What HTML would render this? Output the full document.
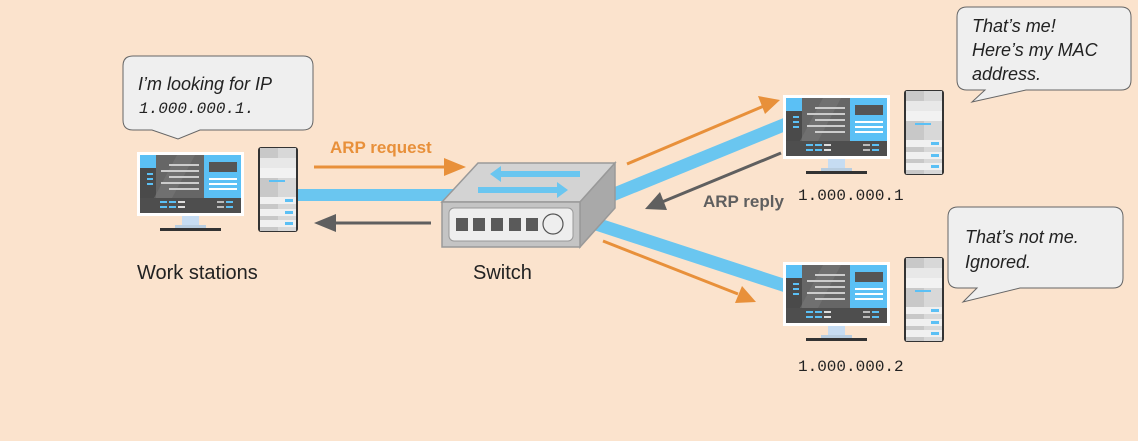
<!DOCTYPE html>
<html><head><meta charset="utf-8"><style>
html,body{margin:0;padding:0;background:#fbe3cd;}
svg{display:block;}
text{font-family:"Liberation Sans",sans-serif;}
</style></head><body>
<svg width="1138" height="441" viewBox="0 0 1138 441" xmlns="http://www.w3.org/2000/svg">
<defs>
<g id="pc">
 <!-- monitor -->
 <rect x="0" y="0" width="107" height="64" fill="#fff"/>
 <rect x="3" y="3" width="101" height="58" fill="#555"/>
 <rect x="3" y="3" width="16" height="13" fill="#5bc0f5"/>
 <rect x="3" y="16" width="16" height="30" fill="#4a4a4a"/>
 <rect x="10" y="21" width="6" height="2" fill="#5bc0f5"/><rect x="10" y="26" width="6" height="2" fill="#5bc0f5"/><rect x="10" y="31" width="6" height="2" fill="#5bc0f5"/>
 <rect x="19" y="3" width="48" height="43" fill="#666"/>
 <polygon points="40,3 58,3 35,46 17,46" fill="#777" opacity="0.6"/>
 <rect x="32" y="12" width="30" height="2" fill="#ccc"/><rect x="24" y="18" width="38" height="2" fill="#ccc"/><rect x="32" y="24" width="30" height="2" fill="#ccc"/><rect x="24" y="30" width="38" height="2" fill="#ccc"/><rect x="32" y="36" width="30" height="2" fill="#ccc"/>
 <rect x="67" y="3" width="37" height="43" fill="#5bc0f5"/>
 <rect x="72" y="10" width="28" height="10" fill="#555"/>
 <rect x="72" y="26" width="28" height="2" fill="#fff"/><rect x="72" y="31" width="28" height="2" fill="#fff"/><rect x="72" y="36" width="28" height="2" fill="#fff"/>
 <rect x="3" y="46" width="101" height="15" fill="#4e4e4e"/>
 <rect x="23" y="49" width="7" height="2" fill="#5bc0f5"/><rect x="32" y="49" width="7" height="2" fill="#5bc0f5"/><rect x="41" y="49" width="7" height="2" fill="#ddd"/>
 <rect x="23" y="54" width="7" height="2" fill="#5bc0f5"/><rect x="32" y="54" width="7" height="2" fill="#5bc0f5"/><rect x="41" y="54" width="7" height="2" fill="#ddd"/>
 <rect x="80" y="49" width="7" height="2" fill="#bbb"/><rect x="89" y="49" width="7" height="2" fill="#5bc0f5"/>
 <rect x="80" y="54" width="7" height="2" fill="#bbb"/><rect x="89" y="54" width="7" height="2" fill="#5bc0f5"/>
 <rect x="45" y="64" width="17" height="10" fill="#c6dcf2"/>
 <rect x="38" y="73" width="31" height="3" fill="#b8cde0"/>
 <rect x="23" y="76" width="61" height="3" fill="#333"/>
 <!-- tower -->
 <rect x="121" y="-5" width="40" height="85" rx="3" fill="#333"/>
 <rect x="123" y="-4" width="36" height="83" fill="#c8c8c8"/>
 <rect x="141" y="-4" width="18" height="83" fill="#d8d8d8"/>
 <rect x="123" y="6" width="36" height="10" fill="#e8e8e8"/>
 <rect x="123" y="16" width="36" height="10" fill="#f2f2f2"/>
 <rect x="132" y="28" width="16" height="2" fill="#5bc0f5"/>
 <rect x="123" y="45" width="36" height="7" fill="#f0f0f0"/><rect x="148" y="47" width="8" height="3" fill="#5bc0f5"/>
 <rect x="123" y="57" width="36" height="7" fill="#f0f0f0"/><rect x="148" y="59" width="8" height="3" fill="#5bc0f5"/>
 <rect x="123" y="68" width="36" height="7" fill="#f0f0f0"/><rect x="148" y="70" width="8" height="3" fill="#5bc0f5"/>
</g>
</defs>

<!-- blue cables -->
<line x1="298" y1="195" x2="460" y2="195" stroke="#6ac6f0" stroke-width="12"/>
<line x1="600" y1="200" x2="786" y2="124" stroke="#6ac6f0" stroke-width="13"/>
<line x1="590" y1="222" x2="786" y2="286" stroke="#6ac6f0" stroke-width="13"/>

<!-- switch -->
<polygon points="478,163 615,163 580,202 442,202" fill="#d3d3d3" stroke="#999" stroke-width="1.5"/>
<polygon points="580,202 615,163 615,208 580,247" fill="#a9a9a9" stroke="#999" stroke-width="1.5"/>
<rect x="442" y="202" width="138" height="45" fill="#c4c4c4" stroke="#999" stroke-width="1.5"/>
<rect x="449" y="208" width="124" height="33" rx="5" fill="#eee" stroke="#999"/>
<rect x="456" y="218" width="12" height="13" fill="#5a5a5a"/><rect x="473" y="218" width="12" height="13" fill="#5a5a5a"/><rect x="491" y="218" width="12" height="13" fill="#5a5a5a"/><rect x="509" y="218" width="12" height="13" fill="#5a5a5a"/><rect x="526" y="218" width="12" height="13" fill="#5a5a5a"/>
<circle cx="553" cy="224" r="10" fill="#eee" stroke="#555" stroke-width="1.2"/>
<line x1="495" y1="174" x2="580" y2="174" stroke="#6ac6f0" stroke-width="6"/>
<polygon points="490,174 501,166 501,182" fill="#6ac6f0"/>
<line x1="478" y1="190" x2="562" y2="190" stroke="#6ac6f0" stroke-width="6"/>
<polygon points="568,190 557,182 557,198" fill="#6ac6f0"/>

<!-- arrows -->
<line x1="314" y1="167" x2="448" y2="167" stroke="#e8903a" stroke-width="3"/>
<polygon points="466,167 444,158 444,176" fill="#e8903a"/>
<line x1="431" y1="223" x2="332" y2="223" stroke="#5f5f5f" stroke-width="3"/>
<polygon points="314,223 336,214 336,232" fill="#5f5f5f"/>
<line x1="627" y1="164" x2="764" y2="106" stroke="#e8903a" stroke-width="3"/>
<polygon points="780,100 758,96 765,114" fill="#e8903a" transform="rotate(0)"/>
<line x1="781" y1="153" x2="662" y2="202" stroke="#5f5f5f" stroke-width="3"/>
<polygon points="645,209 660,192 667,210" fill="#5f5f5f"/>
<line x1="603" y1="241" x2="738" y2="294" stroke="#e8903a" stroke-width="3"/>
<polygon points="756,302 742,286 735,303" fill="#e8903a"/>

<!-- computers -->
<use href="#pc" x="137" y="152"/>
<use href="#pc" x="783" y="95"/>
<use href="#pc" x="783" y="262"/>

<!-- bubbles -->
<path d="M133,56 H303 Q313,56 313,66 V120 Q313,130 303,130 H200 L178,139 L152,130 H133 Q123,130 123,120 V66 Q123,56 133,56 Z" fill="#efefef" stroke="#666" stroke-width="1"/>
<path d="M967,7 H1121 Q1131,7 1131,17 V80 Q1131,90 1121,90 H1026 L972,102 L985,90 H967 Q957,90 957,80 V17 Q957,7 967,7 Z" fill="#efefef" stroke="#666" stroke-width="1"/>
<path d="M958,207 H1113 Q1123,207 1123,217 V278 Q1123,288 1113,288 H1020 L963,302 L977,288 H958 Q948,288 948,278 V217 Q948,207 958,207 Z" fill="#efefef" stroke="#666" stroke-width="1"/>

<!-- text -->
<text x="138" y="90" font-size="18" font-style="italic" fill="#222">I’m looking for IP</text>
<text x="139" y="113" font-size="16" font-style="italic" font-family="Liberation Mono, monospace" fill="#222" style="font-family:'Liberation Mono',monospace">1.000.000.1.</text>
<text x="972" y="32" font-size="18" font-style="italic" fill="#222">That’s me!</text>
<text x="972" y="56" font-size="18" font-style="italic" fill="#222">Here’s my MAC</text>
<text x="972" y="80" font-size="18" font-style="italic" fill="#222">address.</text>
<text x="965" y="243" font-size="18" font-style="italic" fill="#222">That’s not me.</text>
<text x="965" y="268" font-size="18" font-style="italic" fill="#222">Ignored.</text>
<text x="330" y="153" font-size="17" font-weight="bold" fill="#e8903a">ARP request</text>
<text x="703" y="207" font-size="17" font-weight="bold" fill="#5f5f5f">ARP reply</text>
<text x="137" y="279" font-size="20" fill="#222">Work stations</text>
<text x="473" y="279" font-size="20" fill="#222">Switch</text>
<text x="798" y="200" font-size="16" fill="#222" style="font-family:'Liberation Mono',monospace">1.000.000.1</text>
<text x="798" y="371" font-size="16" fill="#222" style="font-family:'Liberation Mono',monospace">1.000.000.2</text>
</svg>
</body></html>
